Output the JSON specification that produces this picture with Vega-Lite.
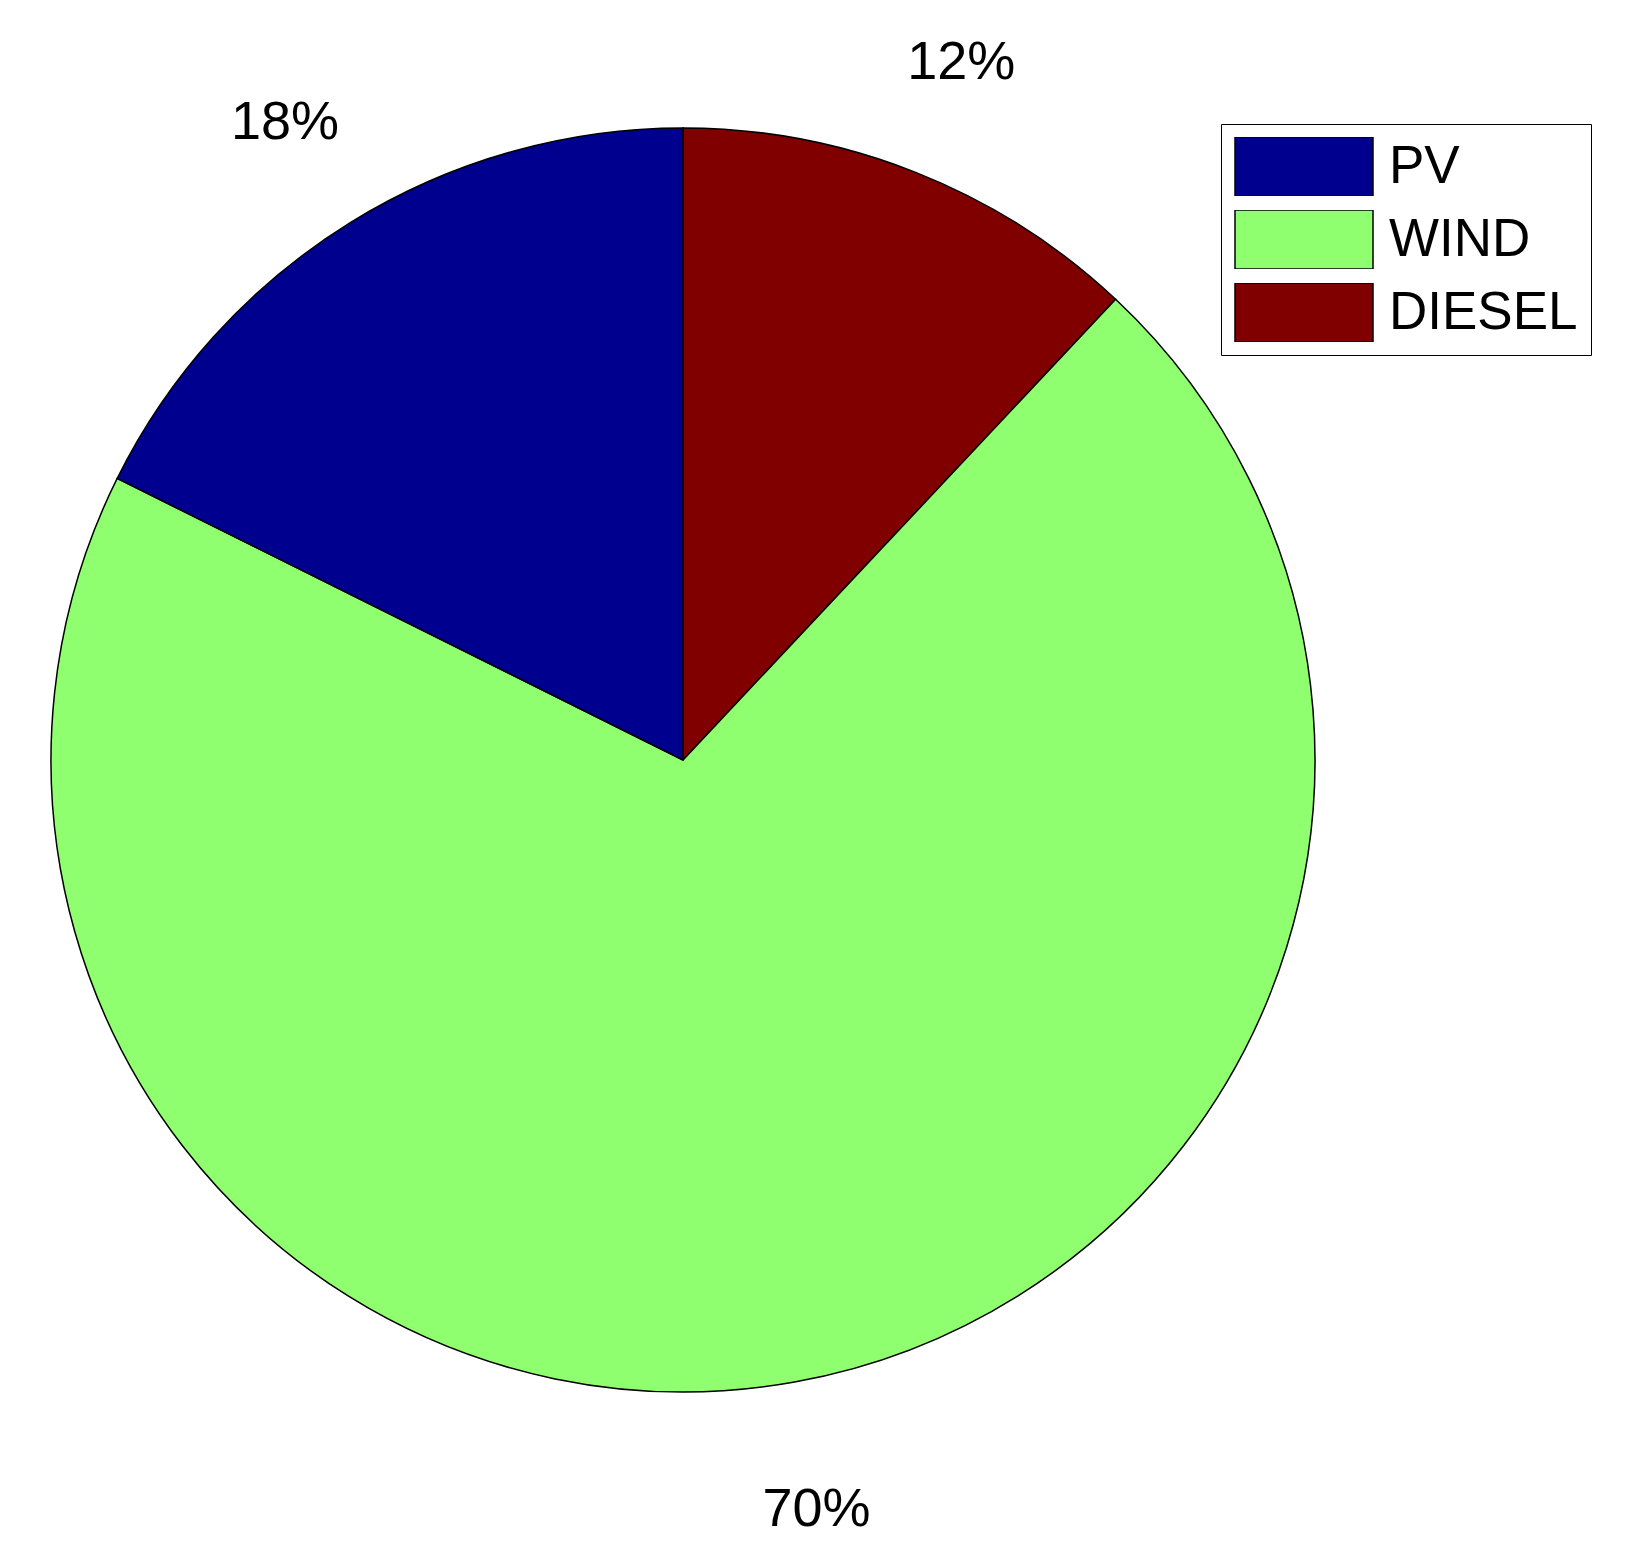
{
  "$schema": "https://vega.github.io/schema/vega-lite/v6.json",
  "width": 1366,
  "height": 1520,
  "padding": 0,
  "background": "white",
  "config": {"view": {"stroke": null}},
  "data": {
    "values": [
      {"source": "DIESEL", "pct": 12.0, "seq": 1, "label": "12%"},
      {"source": "WIND", "pct": 70.35, "seq": 2, "label": "70%"},
      {"source": "PV", "pct": 17.65, "seq": 3, "label": "18%"}
    ]
  },
  "encoding": {
    "theta": {"field": "pct", "type": "quantitative", "stack": true},
    "order": {"field": "seq", "type": "quantitative"}
  },
  "layer": [
    {
      "mark": {"type": "arc", "outerRadius": 632, "stroke": "black", "strokeWidth": 1.5},
      "encoding": {
        "color": {
          "field": "source",
          "type": "nominal",
          "scale": {"domain": ["PV", "WIND", "DIESEL"], "range": ["#00008F", "#8FFF70", "#800000"]},
          "legend": {
            "title": null,
            "orient": "none",
            "legendX": 1221,
            "legendY": 124,
            "padding": 13,
            "strokeColor": "black",
            "fillColor": "white",
            "symbolType": "M-1,-0.4275H1V0.4275H-1Z",
            "symbolSize": 19044,
            "symbolStrokeColor": "black",
            "symbolStrokeWidth": 1.5,
            "symbolOpacity": 1,
            "clipHeight": 59,
            "rowPadding": 14,
            "labelFont": "Liberation Sans",
            "labelFontSize": 53,
            "labelColor": "black",
            "labelOffset": 15,
            "labelLimit": 0
          }
        }
      }
    },
    {
      "mark": {"type": "text", "radius": 756, "dy": 6, "font": "Liberation Sans", "fontSize": 54, "color": "black", "align": "center", "baseline": "middle"},
      "encoding": {"text": {"field": "label", "type": "nominal"}}
    }
  ]
}
